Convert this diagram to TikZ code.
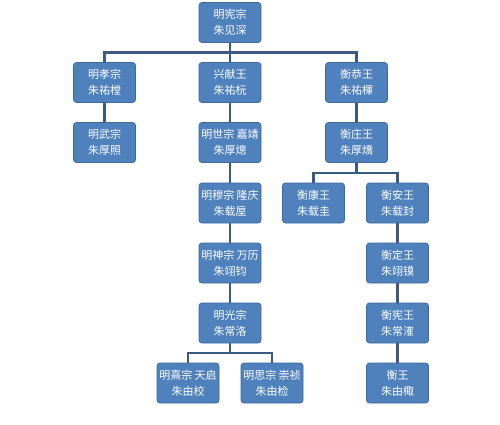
\documentclass[tikz,border=0pt]{standalone}
\usepackage{fontspec}
\setmainfont{Noto Sans CJK SC}
\usetikzlibrary{calc}
\definecolor{boxfill}{HTML}{4F81BD}
\definecolor{boxline}{HTML}{3E6A9C}
\definecolor{conn}{HTML}{3A5A84}
\tikzset{
  person/.style={draw=boxline, line width=0.8pt, fill=boxfill, rounded corners=3pt,
    minimum width=62pt, minimum height=40pt, inner sep=0pt, text=white,
    font=\fontsize{11}{16}\selectfont, align=center},
  link/.style={draw=conn, line width=2.2pt}
}
\newcommand{\linkto}[2]{\draw[link] (#1.south) |- ($(#1.south)!.5!(#2.north)$) -| (#2.north);}
\begin{document}
\begin{tikzpicture}[x=1pt,y=-1pt]
\useasboundingbox[fill=white] (0,0) rectangle (500,424);
\node[person] (xianzong) at (230,22.5) {明宪宗\\朱见深};
\node[person] (xiaozong) at (104.5,82.5) {明孝宗\\朱祐樘};
\node[person] (xingxian) at (230,82.5) {兴献王\\朱祐杬};
\node[person] (henggong) at (356.5,82.5) {衡恭王\\朱祐楎};
\node[person] (wuzong) at (104.5,142.5) {明武宗\\朱厚照};
\node[person] (shizong) at (230,142.5) {明世宗 嘉靖\\朱厚熜};
\node[person] (hengzhuang) at (356.5,142.5) {衡庄王\\朱厚燆};
\node[person] (muzong) at (230,203) {明穆宗 隆庆\\朱载垕};
\node[person] (hengkang) at (313.5,203) {衡康王\\朱载圭};
\node[person] (hengan) at (397.5,203) {衡安王\\朱载封};
\node[person] (shenzong) at (230,263) {明神宗 万历\\朱翊钧};
\node[person] (hengding) at (397.5,263) {衡定王\\朱翊镆};
\node[person] (guangzong) at (230,323) {明光宗\\朱常洛};
\node[person] (hengxian) at (397.5,323) {衡宪王\\朱常㴶};
\node[person] (xizong) at (188,383) {明熹宗 天启\\朱由校};
\node[person] (sizong) at (272,383) {明思宗 崇祯\\朱由检};
\node[person] (hengwang) at (397.5,383) {衡王\\朱由棷};
\linkto{xianzong}{xiaozong}
\linkto{xianzong}{xingxian}
\linkto{xianzong}{henggong}
\linkto{xiaozong}{wuzong}
\linkto{xingxian}{shizong}
\linkto{henggong}{hengzhuang}
\linkto{shizong}{muzong}
\linkto{hengzhuang}{hengkang}
\linkto{hengzhuang}{hengan}
\linkto{muzong}{shenzong}
\linkto{hengan}{hengding}
\linkto{shenzong}{guangzong}
\linkto{hengding}{hengxian}
\linkto{guangzong}{xizong}
\linkto{guangzong}{sizong}
\linkto{hengxian}{hengwang}
\end{tikzpicture}
\end{document}
